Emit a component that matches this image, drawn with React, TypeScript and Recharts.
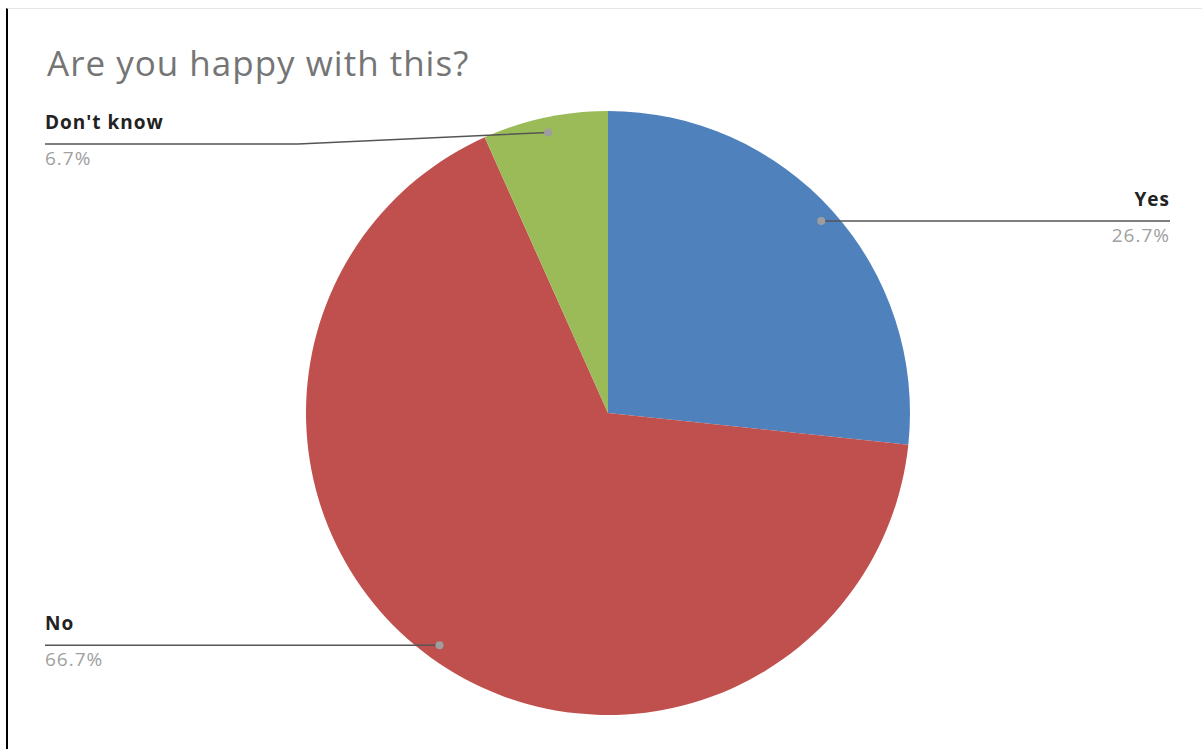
import React from "react"
import { Pie, PieChart, Cell } from "recharts"

const categories = ["Yes", "No", "Don't know"]
const shares = [26.7, 66.7, 6.7]
const COLORS = ["#4F81BD", "#C0504D", "#9BBB59"]

const data = categories.map((name, i) => ({ name, value: shares[i] }))

const RAD = Math.PI / 180
const FONT = "'Open Sans', sans-serif"

// label with leader line running out to the chart edge
function renderLabel(props: any) {
  const { cx, cy, midAngle, outerRadius, index } = props
  const r = outerRadius * 0.95
  const px = cx + r * Math.cos(-midAngle * RAD)
  const py = cy + r * Math.sin(-midAngle * RAD)
  const right = px > cx
  const endX = right ? cx + 562 : cx - 563
  const lineY = Math.max(py, 144)
  const pts =
    lineY !== py
      ? `${px},${py} ${endX + 253},${lineY} ${endX},${lineY}`
      : `${px},${py} ${endX},${lineY}`
  const anchor = right ? "end" : "start"
  return (
    <g key={`lbl-${index}`}>
      <polyline points={pts} fill="none" stroke="#555" strokeWidth={1.5} />
      <circle cx={px} cy={py} r={4} fill="#9e9e9e" />
      <text
        x={endX}
        y={lineY - 15}
        textAnchor={anchor}
        fontFamily={FONT}
        fontSize={19}
        fontWeight="bold"
        letterSpacing={1}
        fill="#222"
      >
        {categories[index]}
      </text>
      <text
        x={endX}
        y={lineY + 21}
        textAnchor={anchor}
        fontFamily={FONT}
        fontSize={19}
        letterSpacing={1}
        fill="#a0a0a0"
      >
        {shares[index].toFixed(1)}%
      </text>
    </g>
  )
}

export default function App() {
  return (
    <div style={{ position: "absolute", left: 0, top: 0, width: 1202, height: 749, background: "#fff" }}>
      <div
        style={{
          position: "absolute",
          left: 6,
          top: 8,
          right: 0,
          bottom: 0,
          borderLeft: "2px solid #000",
          borderTop: "1px solid #e6e6e6",
        }}
      />
      <div
        style={{
          position: "absolute",
          left: 47,
          top: 39,
          fontFamily: FONT,
          fontSize: 35,
          letterSpacing: 1,
          color: "#757575",
          lineHeight: "48px",
        }}
      >
        Are you happy with this?
      </div>
      <div style={{ position: "absolute", left: 0, top: 0 }}>
        <PieChart width={1202} height={749} margin={{ top: 0, right: 0, bottom: 0, left: 0 }}>
          <Pie
            data={data}
            dataKey="value"
            nameKey="name"
            cx={608}
            cy={413}
            outerRadius={302}
            startAngle={90}
            endAngle={-270}
            stroke="none"
            label={renderLabel}
            labelLine={false}
            isAnimationActive={false}
          >
            {data.map((d, i) => (
              <Cell key={d.name} fill={COLORS[i]} />
            ))}
          </Pie>
        </PieChart>
      </div>
    </div>
  )
}
